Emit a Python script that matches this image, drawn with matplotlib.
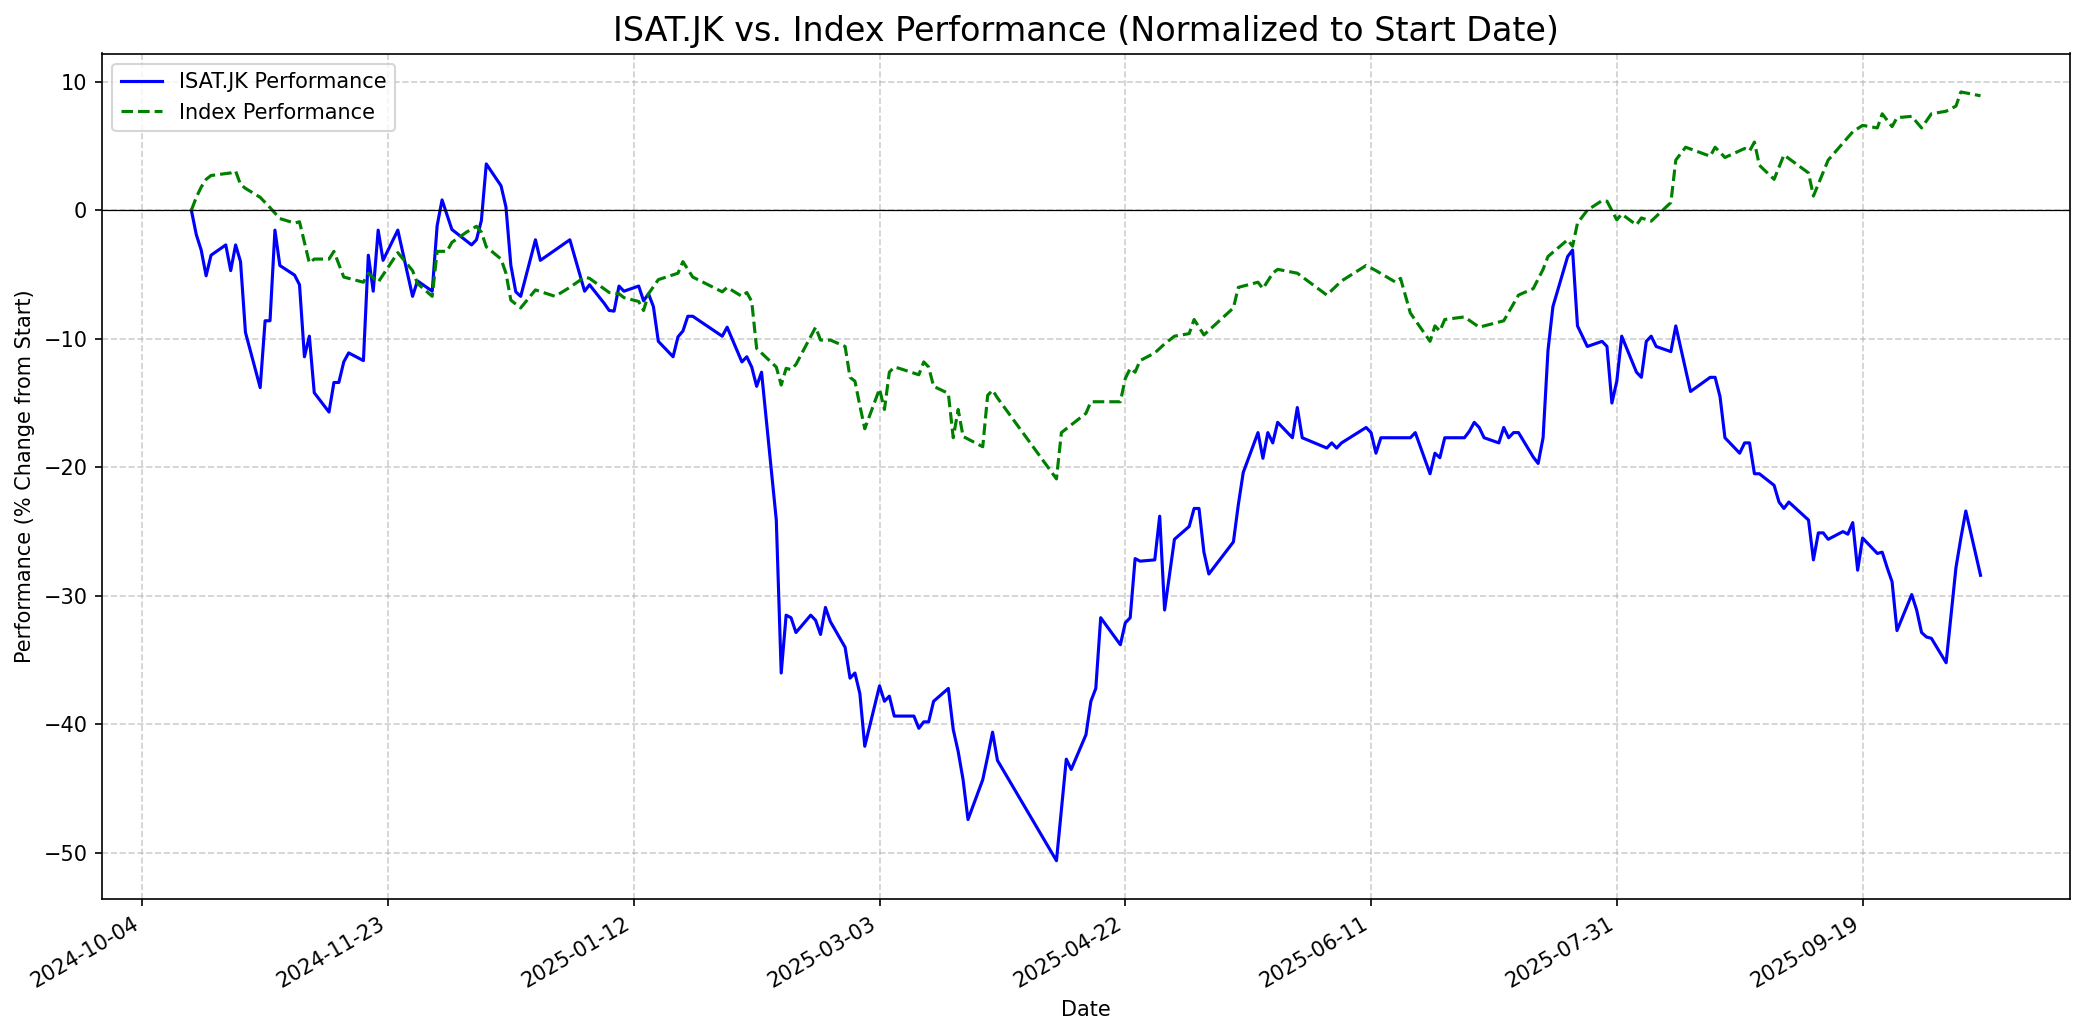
import matplotlib
matplotlib.use("Agg")
import matplotlib.pyplot as plt
import matplotlib.dates as mdates
import matplotlib.ticker as mticker
import pandas as pd

# ISAT.JK performance (% change from first day)
isat_dates = [
    "2024-10-14", "2024-10-15", "2024-10-16", "2024-10-17", "2024-10-18", "2024-10-21",
    "2024-10-22", "2024-10-23", "2024-10-24", "2024-10-25", "2024-10-28", "2024-10-29",
    "2024-10-30", "2024-10-31", "2024-11-01", "2024-11-04", "2024-11-05", "2024-11-06",
    "2024-11-07", "2024-11-08", "2024-11-11", "2024-11-12", "2024-11-13", "2024-11-14",
    "2024-11-15", "2024-11-18", "2024-11-19", "2024-11-20", "2024-11-21", "2024-11-22",
    "2024-11-25", "2024-11-28", "2024-11-29", "2024-12-02", "2024-12-03", "2024-12-04",
    "2024-12-06", "2024-12-10", "2024-12-11", "2024-12-12", "2024-12-13", "2024-12-16",
    "2024-12-17", "2024-12-18", "2024-12-19", "2024-12-20", "2024-12-23", "2024-12-24",
    "2024-12-30", "2025-01-02", "2025-01-03", "2025-01-06", "2025-01-07", "2025-01-08",
    "2025-01-09", "2025-01-10", "2025-01-13", "2025-01-14", "2025-01-15", "2025-01-16",
    "2025-01-17", "2025-01-20", "2025-01-21", "2025-01-22", "2025-01-23", "2025-01-24",
    "2025-01-30", "2025-01-31", "2025-02-03", "2025-02-04", "2025-02-05", "2025-02-06",
    "2025-02-07", "2025-02-10", "2025-02-11", "2025-02-12", "2025-02-13", "2025-02-14",
    "2025-02-17", "2025-02-18", "2025-02-19", "2025-02-20", "2025-02-21", "2025-02-24",
    "2025-02-25", "2025-02-26", "2025-02-27", "2025-02-28", "2025-03-03", "2025-03-04",
    "2025-03-05", "2025-03-06", "2025-03-10", "2025-03-11", "2025-03-12", "2025-03-13",
    "2025-03-14", "2025-03-17", "2025-03-18", "2025-03-19", "2025-03-20", "2025-03-21",
    "2025-03-24", "2025-03-25", "2025-03-26", "2025-03-27", "2025-04-08", "2025-04-10",
    "2025-04-11", "2025-04-14", "2025-04-15", "2025-04-16", "2025-04-17", "2025-04-21",
    "2025-04-22", "2025-04-23", "2025-04-24", "2025-04-25", "2025-04-28", "2025-04-29",
    "2025-04-30", "2025-05-02", "2025-05-05", "2025-05-06", "2025-05-07", "2025-05-08",
    "2025-05-09", "2025-05-14", "2025-05-15", "2025-05-16", "2025-05-19", "2025-05-20",
    "2025-05-21", "2025-05-22", "2025-05-23", "2025-05-26", "2025-05-27", "2025-05-28",
    "2025-06-02", "2025-06-03", "2025-06-04", "2025-06-05", "2025-06-10", "2025-06-11",
    "2025-06-12", "2025-06-13", "2025-06-19", "2025-06-20", "2025-06-23", "2025-06-24",
    "2025-06-25", "2025-06-26", "2025-06-30", "2025-07-01", "2025-07-02", "2025-07-03",
    "2025-07-04", "2025-07-07", "2025-07-08", "2025-07-09", "2025-07-10", "2025-07-11",
    "2025-07-14", "2025-07-15", "2025-07-16", "2025-07-17", "2025-07-18", "2025-07-21",
    "2025-07-22", "2025-07-23", "2025-07-25", "2025-07-28", "2025-07-29", "2025-07-30",
    "2025-07-31", "2025-08-01", "2025-08-04", "2025-08-05", "2025-08-06", "2025-08-07",
    "2025-08-08", "2025-08-11", "2025-08-12", "2025-08-15", "2025-08-19", "2025-08-20",
    "2025-08-21", "2025-08-22", "2025-08-25", "2025-08-26", "2025-08-27", "2025-08-28",
    "2025-08-29", "2025-09-01", "2025-09-02", "2025-09-03", "2025-09-04", "2025-09-08",
    "2025-09-09", "2025-09-10", "2025-09-11", "2025-09-12", "2025-09-15", "2025-09-16",
    "2025-09-17", "2025-09-18", "2025-09-19", "2025-09-22", "2025-09-23", "2025-09-24",
    "2025-09-25", "2025-09-26", "2025-09-29", "2025-09-30", "2025-10-01", "2025-10-02",
    "2025-10-03", "2025-10-06", "2025-10-08", "2025-10-09", "2025-10-10", "2025-10-13",
]
isat_perf = [
    0.0, -1.9, -3.1, -5.1, -3.5, -2.7,
    -4.7, -2.7, -4.0, -9.5, -13.8, -8.6,
    -8.6, -1.55, -4.3, -5.05, -5.8, -11.4,
    -9.8, -14.2, -15.7, -13.4, -13.4, -11.8,
    -11.1, -11.7, -3.5, -6.3, -1.55, -3.9,
    -1.55, -6.7, -5.5, -6.3, -1.2, 0.8,
    -1.5, -2.7, -2.3, -0.8, 3.6, 1.9,
    0.25, -4.3, -6.35, -6.7, -2.3, -3.9,
    -2.3, -6.3, -5.8, -7.25, -7.8, -7.85,
    -5.9, -6.3, -5.9, -7.05, -6.5, -7.5,
    -10.2, -11.4, -9.85, -9.4, -8.25, -8.25,
    -9.8, -9.1, -11.8, -11.4, -12.2, -13.7,
    -12.6, -24.1, -36.0, -31.5, -31.7, -32.85,
    -31.5, -31.9, -33.0, -30.9, -32.0, -34.0,
    -36.4, -36.0, -37.6, -41.7, -37.0, -38.2,
    -37.8, -39.35, -39.35, -40.3, -39.8, -39.8,
    -38.2, -37.2, -40.4, -42.1, -44.3, -47.4,
    -44.3, -42.5, -40.6, -42.8, -50.6, -42.7,
    -43.5, -40.8, -38.2, -37.2, -31.7, -33.8,
    -32.1, -31.7, -27.1, -27.3, -27.2, -23.8,
    -31.1, -25.6, -24.6, -23.2, -23.2, -26.6,
    -28.3, -25.8, -22.9, -20.4, -17.3, -19.3,
    -17.3, -18.1, -16.5, -17.7, -15.35, -17.7,
    -18.5, -18.1, -18.5, -18.1, -16.9, -17.3,
    -18.9, -17.7, -17.7, -17.3, -20.5, -18.9,
    -19.25, -17.7, -17.7, -17.2, -16.5, -16.9,
    -17.7, -18.1, -16.9, -17.7, -17.3, -17.3,
    -19.2, -19.7, -17.7, -10.9, -7.5, -3.6,
    -3.1, -9.0, -10.6, -10.2, -10.6, -15.0,
    -13.3, -9.8, -12.6, -13.0, -10.2, -9.8,
    -10.6, -11.0, -9.0, -14.1, -13.0, -13.0,
    -14.5, -17.7, -18.9, -18.1, -18.1, -20.5,
    -20.5, -21.4, -22.7, -23.2, -22.7, -24.1,
    -27.2, -25.1, -25.1, -25.6, -25.0, -25.2,
    -24.3, -28.0, -25.5, -26.7, -26.6, -27.8,
    -28.9, -32.7, -29.9, -31.1, -32.85, -33.2,
    -33.3, -35.2, -27.8, -25.5, -23.4, -28.4,
]

# Index performance (% change from first day)
index_dates = [
    "2024-10-14", "2024-10-15", "2024-10-16", "2024-10-17", "2024-10-18", "2024-10-21",
    "2024-10-22", "2024-10-23", "2024-10-24", "2024-10-25", "2024-10-28", "2024-10-30",
    "2024-11-01", "2024-11-04", "2024-11-05", "2024-11-07", "2024-11-08", "2024-11-11",
    "2024-11-12", "2024-11-14", "2024-11-18", "2024-11-19", "2024-11-21", "2024-11-25",
    "2024-11-28", "2024-11-29", "2024-12-02", "2024-12-03", "2024-12-05", "2024-12-06",
    "2024-12-09", "2024-12-11", "2024-12-12", "2024-12-13", "2024-12-16", "2024-12-17",
    "2024-12-18", "2024-12-20", "2024-12-23", "2024-12-27", "2024-12-30", "2025-01-02",
    "2025-01-03", "2025-01-07", "2025-01-09", "2025-01-10", "2025-01-13", "2025-01-14",
    "2025-01-15", "2025-01-17", "2025-01-21", "2025-01-22", "2025-01-24", "2025-01-30",
    "2025-01-31", "2025-02-03", "2025-02-04", "2025-02-05", "2025-02-06", "2025-02-10",
    "2025-02-11", "2025-02-12", "2025-02-13", "2025-02-14", "2025-02-18", "2025-02-19",
    "2025-02-21", "2025-02-24", "2025-02-25", "2025-02-26", "2025-02-27", "2025-02-28",
    "2025-03-03", "2025-03-04", "2025-03-05", "2025-03-06", "2025-03-07", "2025-03-11",
    "2025-03-12", "2025-03-13", "2025-03-14", "2025-03-17", "2025-03-18", "2025-03-19",
    "2025-03-20", "2025-03-24", "2025-03-25", "2025-03-26", "2025-03-27", "2025-04-08",
    "2025-04-09", "2025-04-14", "2025-04-15", "2025-04-21", "2025-04-22", "2025-04-23",
    "2025-04-24", "2025-04-25", "2025-04-28", "2025-04-30", "2025-05-02", "2025-05-05",
    "2025-05-06", "2025-05-08", "2025-05-14", "2025-05-15", "2025-05-19", "2025-05-20",
    "2025-05-22", "2025-05-23", "2025-05-27", "2025-06-02", "2025-06-05", "2025-06-10",
    "2025-06-12", "2025-06-16", "2025-06-17", "2025-06-19", "2025-06-23", "2025-06-24",
    "2025-06-25", "2025-06-26", "2025-06-30", "2025-07-03", "2025-07-08", "2025-07-11",
    "2025-07-14", "2025-07-16", "2025-07-17", "2025-07-21", "2025-07-22", "2025-07-23",
    "2025-07-25", "2025-07-28", "2025-07-29", "2025-07-31", "2025-08-01", "2025-08-04",
    "2025-08-05", "2025-08-07", "2025-08-11", "2025-08-12", "2025-08-14", "2025-08-19",
    "2025-08-20", "2025-08-22", "2025-08-26", "2025-08-27", "2025-08-28", "2025-08-29",
    "2025-09-01", "2025-09-03", "2025-09-08", "2025-09-09", "2025-09-12", "2025-09-17",
    "2025-09-19", "2025-09-22", "2025-09-23", "2025-09-25", "2025-09-26", "2025-09-29",
    "2025-10-01", "2025-10-03", "2025-10-06", "2025-10-08", "2025-10-09", "2025-10-13",
]
index_perf = [
    0.0, 1.0, 1.8, 2.4, 2.7, 2.85,
    2.9, 3.05, 2.0, 1.7, 1.0, 0.2,
    -0.65, -1.0, -0.9, -4.1, -3.8, -3.8,
    -3.2, -5.2, -5.6, -4.9, -5.6, -3.3,
    -4.7, -5.7, -6.7, -3.2, -3.2, -2.5,
    -1.7, -1.25, -1.7, -2.85, -3.8, -4.9,
    -7.0, -7.6, -6.2, -6.7, -6.0, -5.2,
    -5.3, -6.4, -6.5, -6.8, -7.1, -7.8,
    -6.5, -5.4, -4.9, -4.0, -5.2, -6.35,
    -6.0, -6.7, -6.4, -7.1, -10.75, -12.2,
    -13.6, -12.3, -12.4, -12.0, -9.1, -10.1,
    -10.1, -10.6, -13.0, -13.3, -15.2, -17.0,
    -13.9, -15.5, -12.6, -12.2, -12.3, -12.8,
    -11.8, -12.2, -13.7, -14.25, -17.7, -15.5,
    -17.6, -18.4, -14.4, -14.0, -14.6, -20.9,
    -17.3, -15.8, -14.9, -14.9, -13.1, -12.3,
    -12.6, -11.7, -11.1, -10.4, -9.8, -9.6,
    -8.5, -9.7, -7.6, -6.0, -5.6, -6.1,
    -4.9, -4.6, -4.9, -6.6, -5.5, -4.3,
    -4.7, -5.6, -5.3, -8.0, -10.2, -9.0,
    -9.4, -8.5, -8.3, -9.1, -8.6, -6.6,
    -6.1, -4.6, -3.6, -2.3, -2.8, -1.0,
    0.0, 0.75, 0.7, -0.75, -0.3, -1.15,
    -0.6, -0.85, 0.6, 3.9, 4.9, 4.2,
    4.9, 4.1, 4.8, 4.6, 5.3, 3.5,
    2.4, 4.3, 2.9, 1.1, 3.9, 6.1,
    6.6, 6.4, 7.5, 6.5, 7.2, 7.3,
    6.4, 7.5, 7.7, 8.1, 9.2, 8.9,
]

isat_x = pd.to_datetime(isat_dates)
index_x = pd.to_datetime(index_dates)

fig, ax = plt.subplots(figsize=(14, 7), dpi=150)

ax.plot(isat_x, isat_perf, color="blue", lw=1.5, label="ISAT.JK Performance")
ax.plot(index_x, index_perf, color="green", lw=1.5, ls="--", label="Index Performance")
ax.axhline(0, color="black", lw=0.6)

ax.set_title("ISAT.JK vs. Index Performance (Normalized to Start Date)", fontsize=16)
ax.set_xlabel("Date")
ax.set_ylabel("Performance (% Change from Start)")
ax.grid(True, ls="--", alpha=0.6)
ax.legend(loc="upper left")

# ticks every 50 days, as in the original
ax.xaxis.set_major_locator(mticker.MultipleLocator(50))
ax.xaxis.set_major_formatter(mdates.DateFormatter("%Y-%m-%d"))
fig.autofmt_xdate()

fig.tight_layout()
fig.savefig("out.png", dpi=150, bbox_inches="tight")
